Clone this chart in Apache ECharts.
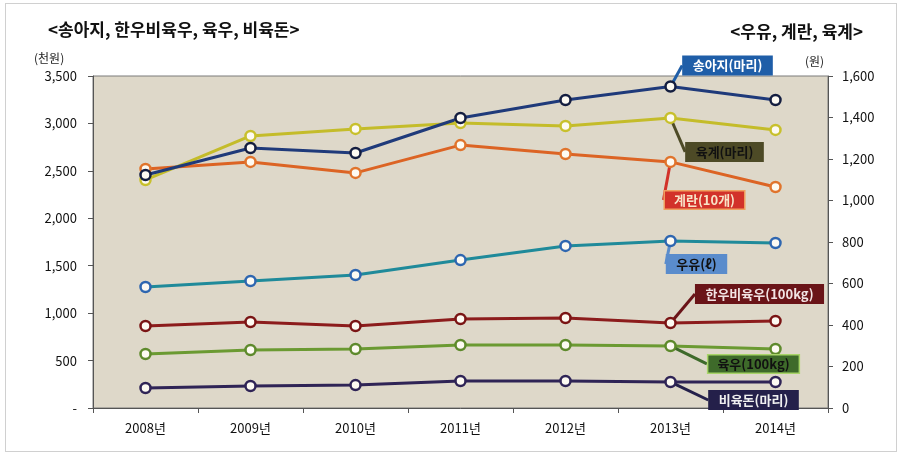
<!DOCTYPE html>
<html>
<head>
<meta charset="utf-8">
<script src="https://cdn.jsdelivr.net/npm/echarts@6/dist/echarts.min.js"></script>
<style>
  body { margin: 0; background: #fff; }
  #wrap { position: relative; width: 902px; height: 454px; }
  #frame { position: absolute; left: 5px; top: 3px; width: 890px; height: 447px; border: 1px solid #d0d0d0; }
  #chart { position: absolute; left: 0; top: 0; width: 902px; height: 454px; }
</style>
</head>
<body>
<div id="wrap">
  <div id="frame"></div>
  <div id="chart"></div>
</div>
<script>
const years = ['2008년', '2009년', '2010년', '2011년', '2012년', '2013년', '2014년']

// 왼쪽 축 (천원)
const calf = [2456, 2741, 2688, 3057, 3247, 3389, 3247]
const hanwoo = [864, 907, 864, 938, 949, 896, 917]
const yukwoo = [569, 611, 622, 664, 664, 654, 622]
const pig = [211, 232, 242, 285, 285, 274, 274]

// 오른쪽 축 (원)
const milk = [583, 612, 641, 713, 781, 805, 795]
const egg = [1152, 1186, 1133, 1267, 1224, 1186, 1065]
const broiler = [1099, 1311, 1345, 1373, 1359, 1398, 1340]

const leftTicks = { min: 0, max: 3500, interval: 500 }
const rightTicks = { min: 0, max: 1600, interval: 200 }

const FONT = '"Noto Sans CJK KR", "Noto Sans", sans-serif'
const calloutIndex = 5

// 설명 상자: [시리즈명, 축, 데이터, 선색, 마커색, 상자색, 글자색, 테두리색, dx, dy]
const seriesDefs = [
  ['비육돈(마리)', 0, pig, '#2f2456', '#2f2456', '#24204a', '#f0f0f0', '#24204a', 83, 18],
  ['육우(100kg)', 0, yukwoo, '#6b9a32', '#5e8a2c', '#3e6a2a', '#111111', '#a8d468', 83, 18],
  ['한우비육우(100kg)', 0, hanwoo, '#8c1c1c', '#7a1414', '#6a1418', '#f2e4e4', '#6a1418', 89, -29],
  ['우유(ℓ)', 1, milk, '#1f8a9a', '#2e66b0', '#5a8ccc', '#111111', '#5a8ccc', 26, 23],
  ['계란(10개)', 1, egg, '#dc6424', '#e0742c', '#d2322a', '#f8e4c8', '#f0a060', 34, 38],
  ['육계(마리)', 1, broiler, '#c4bc2a', '#c8c02c', '#4d4a26', '#111111', '#4d4a26', 54, 34],
  ['송아지(마리)', 0, calf, '#1f3a7a', '#141e40', '#1f5ea8', '#ffffff', '#1f5ea8', 57, -21],
]

const series = seriesDefs.map(([name, axis, values, lineColor, markColor, boxColor, textColor, borderColor, dx, dy]) => ({
  name,
  type: 'line',
  yAxisIndex: axis,
  data: values.map((v, i) => i === calloutIndex ? {
    value: v,
    label: {
      show: true,
      position: 'inside',
      formatter: name,
      backgroundColor: boxColor,
      borderColor,
      borderWidth: 1.5,
      color: textColor,
      fontFamily: FONT,
      fontSize: 13,
      fontWeight: 'bold',
      padding: [2, 9],
    },
    labelLine: { show: true, lineStyle: { color: boxColor, width: 3 } },
  } : v),
  symbol: 'circle',
  symbolSize: 10,
  lineStyle: { color: lineColor, width: 3 },
  itemStyle: { color: '#fdfaf2', borderColor: markColor, borderWidth: 2.5 },
  labelLayout: (params) => params.dataIndex === calloutIndex ? { dx, dy } : {},
  z: 3,
}))

const chart = echarts.init(document.getElementById('chart'))
chart.setOption({
  animation: false,
  textStyle: { fontFamily: FONT },
  title: [
    { text: '<송아지, 한우비육우, 육우, 비육돈>', left: 43, top: 16, textStyle: { fontSize: 17, fontWeight: 'bold', color: '#111', fontFamily: FONT } },
    { text: '<우유, 계란, 육계>', right: 34, top: 18, textStyle: { fontSize: 17, fontWeight: 'bold', color: '#111', fontFamily: FONT } },
    { text: '(천원)', left: 29, top: 47, textStyle: { fontSize: 12, fontWeight: 'normal', color: '#222', fontFamily: FONT } },
    { text: '(원)', left: 800, top: 50, textStyle: { fontSize: 12, fontWeight: 'normal', color: '#222', fontFamily: FONT } },
  ],
  grid: {
    left: 93, right: 74, top: 76, bottom: 46,
    show: true, backgroundColor: '#ded8c9', borderColor: '#7a7a7a', borderWidth: 1,
  },
  xAxis: {
    type: 'category',
    data: years,
    axisLine: { lineStyle: { color: '#555', width: 1 } },
    axisTick: { show: true, length: 5, lineStyle: { color: '#555' } },
    axisLabel: { color: '#111', fontSize: 13, margin: 14, fontFamily: FONT },
  },
  yAxis: [
    {
      type: 'value', position: 'left', ...leftTicks,
      axisLine: { show: true, lineStyle: { color: '#555' } },
      axisTick: { show: true, length: 5, lineStyle: { color: '#555' } },
      splitLine: { show: false },
      axisLabel: { color: '#111', fontSize: 13, margin: 16, fontFamily: FONT,
        formatter: (v) => v === 0 ? '-' : v.toLocaleString('en-US') },
    },
    {
      type: 'value', position: 'right', ...rightTicks,
      axisLine: { show: true, lineStyle: { color: '#555' } },
      axisTick: { show: true, length: 5, lineStyle: { color: '#555' } },
      splitLine: { show: false },
      axisLabel: { color: '#111', fontSize: 13, margin: 14, fontFamily: FONT,
        formatter: (v) => v.toLocaleString('en-US') },
    },
  ],
  series,
})
</script>
</body>
</html>
